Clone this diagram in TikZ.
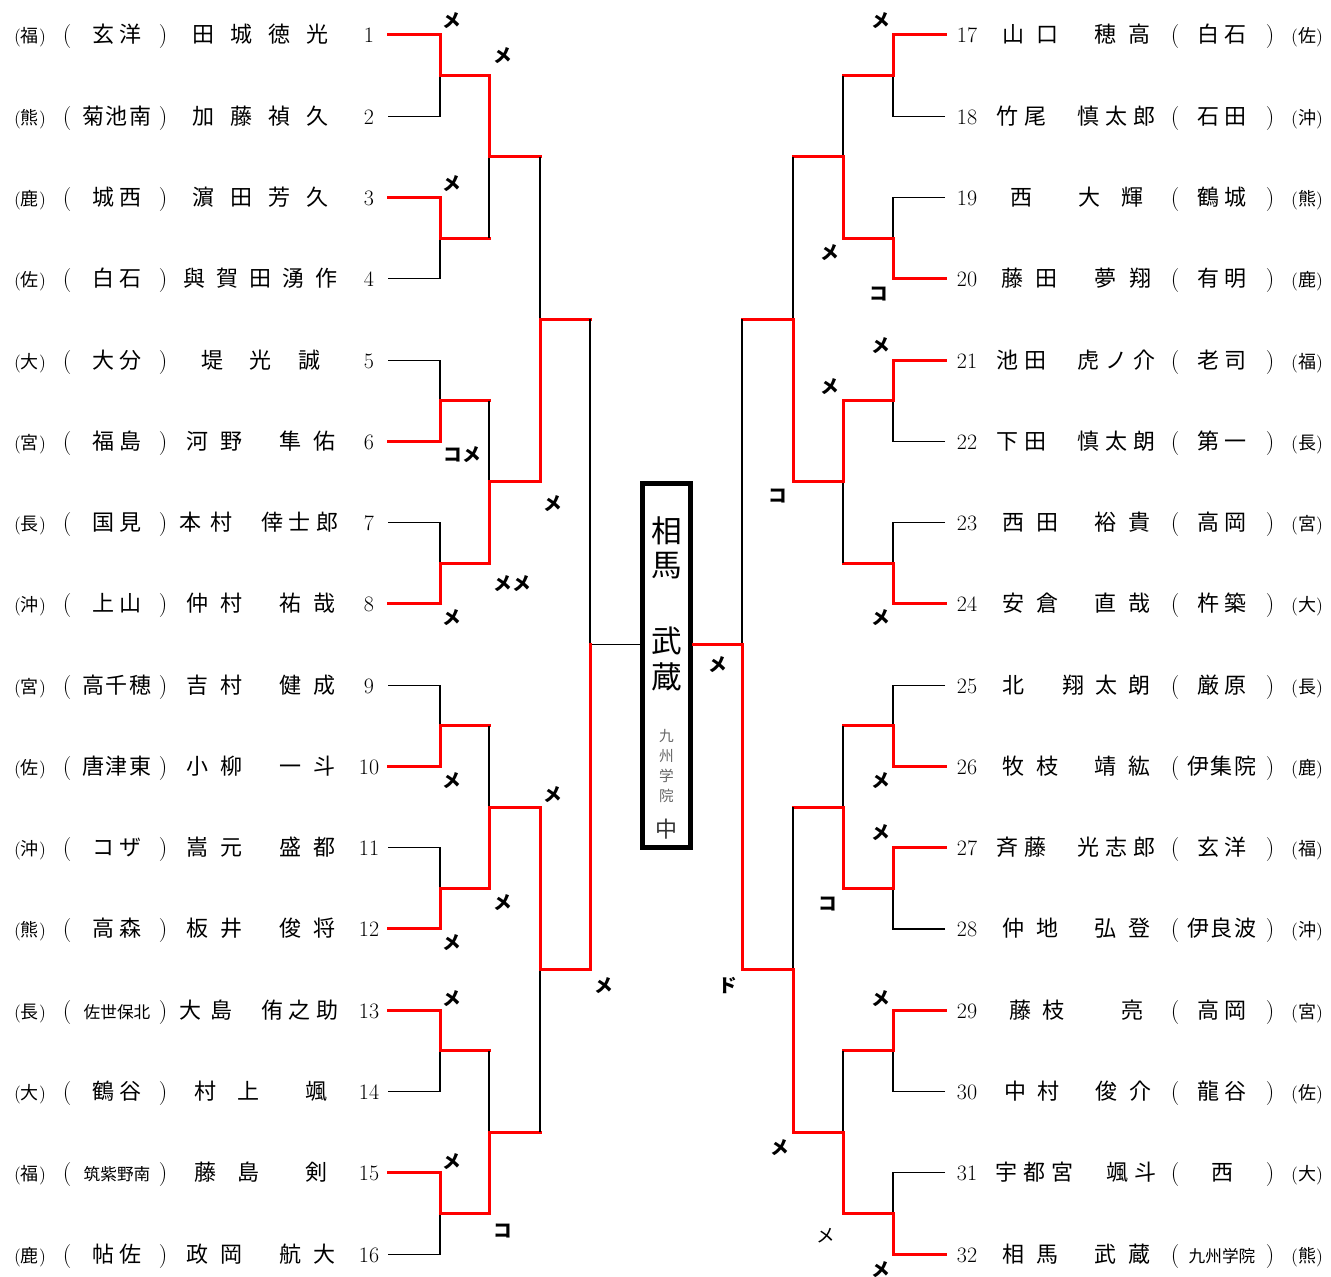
\documentclass[tikz,border=0pt]{standalone}
\usepackage{fontspec}
\newfontfamily\jp{Noto Sans CJK JP}
\newcommand\Lpar{{\normalfont(}}
\newcommand\Rpar{{\normalfont)}}
\newcommand\twoc[2]{#1\kern4pt#2}
\newcommand\thrc[3]{#1\kern1.2pt#2\kern1.2pt#3}
\newcommand\smlc[1]{{\fontsize{12.5}{13}\selectfont #1}}
\newcommand\bout[4]{\draw[lose] (#2) -| (#3); \draw[win] (#1) -| (#3) -- (#4);}
\newcommand\Lrow[5]{%
  \pgfmathsetmacro\yb{35+(#1-1)*81.27+8}
  \node[pf] (lpf#1) at (30,\yb) {\Lpar#2\Rpar};
  \node[prn] (llp#1) at (67,\yb) {(};
  \node[sc] (lsc#1) at (117,\yb) {#3};
  \node[prn] (lrp#1) at (163,\yb) {)};
  \foreach \xx/\cc in {#4}{\node[nm] (ln#1-\xx) at (\xx,\yb) {\cc};}
  \node[num] (lnum#1) at (369,\yb) {#5};
}
\newcommand\Rrow[5]{%
  \pgfmathsetmacro\yb{35+(#1-1)*81.27+8}
  \node[num] (rnum#1) at (967,\yb) {#2};
  \foreach \xx/\cc in {#3}{\node[nm] (rn#1-\xx) at (\xx,\yb) {\cc};}
  \node[prn] (rlp#1) at (1175,\yb) {(};
  \node[sc] (rsc#1) at (1222,\yb) {#4};
  \node[prn] (rrp#1) at (1270,\yb) {)};
  \node[pf] (rpf#1) at (1307,\yb) {\Lpar#5\Rpar};
}
\begin{document}
\begin{tikzpicture}[x=0.75pt,y=-0.75pt,
 win/.style={draw=red,line width=2.25pt,line cap=rect},
 lose/.style={draw=black,line width=0.8pt},
 txt/.style={inner sep=0pt,anchor=base},
 nm/.style={txt,font=\jp\fontsize{16.5}{18}\selectfont},
 sc/.style={txt,font=\jp\fontsize{16.5}{18}\selectfont},
 prn/.style={txt,font=\fontsize{18}{20}\selectfont},
 num/.style={txt,font=\fontsize{16.5}{18}\selectfont},
 pf/.style={txt,font=\jp\fontsize{13.5}{15}\selectfont},
 lab/.style={inner sep=0pt,font=\jp\bfseries\fontsize{14}{14}\selectfont},
 thinlab/.style={inner sep=0pt,font=\jp\fontsize{14}{14}\selectfont},
 bigc/.style={inner sep=0pt,font=\jp\fontsize{23}{24}\selectfont},
 smc/.style={inner sep=0pt,font=\jp\fontsize{11}{12}\selectfont,text=black!60},
 midc/.style={inner sep=0pt,font=\jp\fontsize{16.5}{18}\selectfont,text=black!80},
 frame/.style={draw=black,line width=3.75pt,minimum width=36pt,minimum height=273pt,inner sep=0pt}]
\useasboundingbox (0,0) rectangle (1331,1277);

% ---------- coordinates ----------
\foreach \i in {1,...,16}{\coordinate (p\i) at (388,{35+(\i-1)*81.27});}
\foreach \i [evaluate=\i as \j using int(\i+16)] in {1,...,16}{\coordinate (p\j) at (945,{35+(\i-1)*81.27});}
\foreach \k in {1,...,8}{
  \coordinate (la\k) at (440,{75.635+(\k-1)*162.54});
  \coordinate (lA\k) at (489,{75.635+(\k-1)*162.54});
  \coordinate (ra\k) at (893,{75.635+(\k-1)*162.54});
  \coordinate (rA\k) at (843,{75.635+(\k-1)*162.54});
}
\foreach \k in {1,...,4}{
  \coordinate (lb\k) at (489,{156.905+(\k-1)*325.08});
  \coordinate (lB\k) at (540,{156.905+(\k-1)*325.08});
  \coordinate (rb\k) at (843,{156.905+(\k-1)*325.08});
  \coordinate (rB\k) at (793,{156.905+(\k-1)*325.08});
}
\foreach \k in {1,2}{
  \coordinate (lc\k) at (540,{319.445+(\k-1)*650.16});
  \coordinate (lC\k) at (590,{319.445+(\k-1)*650.16});
  \coordinate (rc\k) at (793,{319.445+(\k-1)*650.16});
  \coordinate (rC\k) at (742,{319.445+(\k-1)*650.16});
}
\coordinate (ld) at (590,644.525);
\coordinate (rd) at (742,644.525);

% ---------- central box ----------
\node[frame] (box) at (666.5,665.5) {};
\node[bigc] (b1) at (666.5,531) {相};
\node[bigc] (b2) at (666.5,566) {馬};
\node[bigc] (b3) at (666.5,641) {武};
\node[bigc] (b4) at (666.5,677) {蔵};
\node[smc] (b5) at (666.5,736) {九};
\node[smc] (b6) at (666.5,756) {州};
\node[smc] (b7) at (666.5,776) {学};
\node[smc] (b8) at (666.5,796) {院};
\node[midc] (b9) at (666.5,829) {中};

% ---------- left bracket ----------
\bout{p1}{p2}{la1}{lA1}
\bout{p3}{p4}{la2}{lA2}
\bout{p6}{p5}{la3}{lA3}
\bout{p8}{p7}{la4}{lA4}
\bout{p10}{p9}{la5}{lA5}
\bout{p12}{p11}{la6}{lA6}
\bout{p13}{p14}{la7}{lA7}
\bout{p15}{p16}{la8}{lA8}
\bout{lA1}{lA2}{lb1}{lB1}
\bout{lA4}{lA3}{lb2}{lB2}
\bout{lA6}{lA5}{lb3}{lB3}
\bout{lA8}{lA7}{lb4}{lB4}
\bout{lB2}{lB1}{lc1}{lC1}
\bout{lB3}{lB4}{lc2}{lC2}
\draw[lose] (lC1) -- (ld) -- (ld -| box.west);
\draw[win] (lC2) -- (ld);

% ---------- right bracket ----------
\bout{p17}{p18}{ra1}{rA1}
\bout{p20}{p19}{ra2}{rA2}
\bout{p21}{p22}{ra3}{rA3}
\bout{p24}{p23}{ra4}{rA4}
\bout{p26}{p25}{ra5}{rA5}
\bout{p27}{p28}{ra6}{rA6}
\bout{p29}{p30}{ra7}{rA7}
\bout{p32}{p31}{ra8}{rA8}
\bout{rA2}{rA1}{rb1}{rB1}
\bout{rA3}{rA4}{rb2}{rB2}
\bout{rA6}{rA5}{rb3}{rB3}
\bout{rA8}{rA7}{rb4}{rB4}
\bout{rB2}{rB1}{rc1}{rC1}
\bout{rB4}{rB3}{rc2}{rC2}
\draw[lose] (rC1) -- (rd);
\draw[win] (rC2) -- (rd) -- (rd -| box.east);

% ---------- left rows ----------
\Lrow{1}{福}{\twoc{玄}{洋}}{203/田,241/城,279/徳,317/光}{1}
\Lrow{2}{熊}{\thrc{菊}{池}{南}}{203/加,241/藤,279/禎,317/久}{2}
\Lrow{3}{鹿}{\twoc{城}{西}}{203/濵,241/田,279/芳,317/久}{3}
\Lrow{4}{佐}{\twoc{白}{石}}{194/與,227/賀,260/田,293/湧,326/作}{4}
\Lrow{5}{大}{\twoc{大}{分}}{212/堤,260/光,309/誠}{5}
\Lrow{6}{宮}{\twoc{福}{島}}{197/河,231/野,290/隼,324/佑}{6}
\Lrow{7}{長}{\twoc{国}{見}}{190/本,221/村,272/倖,299/士,327/郎}{7}
\Lrow{8}{沖}{\twoc{上}{山}}{197/仲,231/村,290/祐,324/哉}{8}
\Lrow{9}{宮}{\thrc{高}{千}{穂}}{197/吉,231/村,290/健,324/成}{9}
\Lrow{10}{佐}{\thrc{唐}{津}{東}}{197/小,231/柳,290/一,324/斗}{10}
\Lrow{11}{沖}{\twoc{コ}{ザ}}{197/嵩,231/元,290/盛,324/都}{11}
\Lrow{12}{熊}{\twoc{高}{森}}{197/板,231/井,290/俊,324/将}{12}
\Lrow{13}{長}{\smlc{佐世保北}}{190/大,221/島,272/侑,299/之,327/助}{13}
\Lrow{14}{大}{\twoc{鶴}{谷}}{205/村,248/上,316/颯}{14}
\Lrow{15}{福}{\smlc{筑紫野南}}{205/藤,248/島,316/剣}{15}
\Lrow{16}{鹿}{\twoc{帖}{佐}}{197/政,231/岡,290/航,324/大}{16}

% ---------- right rows ----------
\Rrow{1}{17}{1013/山,1047/口,1105/穂,1139/高}{\twoc{白}{石}}{佐}
\Rrow{2}{18}{1007/竹,1035/尾,1088/慎,1116/太,1144/郎}{\twoc{石}{田}}{沖}
\Rrow{3}{19}{1021/西,1089/大,1132/輝}{\twoc{鶴}{城}}{熊}
\Rrow{4}{20}{1012/藤,1046/田,1105/夢,1140/翔}{\twoc{有}{明}}{鹿}
\Rrow{5}{21}{1007/池,1035/田,1088/虎,1116/ノ,1144/介}{\twoc{老}{司}}{福}
\Rrow{6}{22}{1007/下,1035/田,1088/慎,1116/太,1144/朗}{\twoc{第}{一}}{長}
\Rrow{7}{23}{1013/西,1047/田,1105/裕,1139/貴}{\twoc{高}{岡}}{宮}
\Rrow{8}{24}{1013/安,1047/倉,1105/直,1139/哉}{\twoc{杵}{築}}{大}
\Rrow{9}{25}{1013/北,1073/翔,1106/太,1139/朗}{\twoc{厳}{原}}{長}
\Rrow{10}{26}{1013/牧,1047/枝,1105/靖,1139/紘}{\thrc{伊}{集}{院}}{鹿}
\Rrow{11}{27}{1007/斉,1035/藤,1088/光,1116/志,1144/郎}{\twoc{玄}{洋}}{福}
\Rrow{12}{28}{1013/仲,1047/地,1105/弘,1139/登}{\thrc{伊}{良}{波}}{沖}
\Rrow{13}{29}{1020/藤,1053/枝,1132/亮}{\twoc{高}{岡}}{宮}
\Rrow{14}{30}{1015/中,1048/村,1106/俊,1140/介}{\twoc{龍}{谷}}{佐}
\Rrow{15}{31}{1006/宇,1034/都,1062/宮,1117/颯,1145/斗}{西}{大}
\Rrow{16}{32}{1013/相,1047/馬,1105/武,1139/蔵}{\smlc{九州学院}}{熊}

% ---------- result marks ----------
\node[lab] (k1) at (452,21) {メ};
\node[lab] (k2) at (503,56) {メ};
\node[lab] (k3) at (452,184) {メ};
\node[lab] (k4) at (462,455) {コメ};
\node[lab] (k5) at (512,584) {メメ};
\node[lab] (k6) at (452,618) {メ};
\node[lab] (k7) at (553,504) {メ};
\node[lab] (k8) at (452,781) {メ};
\node[lab] (k9) at (553,795) {メ};
\node[lab] (k10) at (503,903) {メ};
\node[lab] (k11) at (452,943) {メ};
\node[lab] (k12) at (604,986) {メ};
\node[lab] (k13) at (452,999) {メ};
\node[lab] (k14) at (452,1162) {メ};
\node[lab] (k15) at (503,1231) {コ};

\node[lab] (j1) at (881,21) {メ};
\node[lab] (j2) at (830,253) {メ};
\node[lab] (j3) at (879,294) {コ};
\node[lab] (j4) at (881,346) {メ};
\node[lab] (j5) at (830,387) {メ};
\node[lab] (j6) at (778,496) {コ};
\node[lab] (j7) at (881,618) {メ};
\node[lab] (j8) at (718,665) {メ};
\node[lab] (j9) at (881,781) {メ};
\node[lab] (j10) at (881,833) {メ};
\node[lab] (j11) at (828,904) {コ};
\node[lab] (j12) at (728,985) {ド};
\node[lab] (j13) at (881,999) {メ};
\node[lab] (j14) at (780,1148) {メ};
\node[thinlab] (j15) at (826,1236) {メ};
\node[lab] (j16) at (881,1270) {メ};
\end{tikzpicture}
\end{document}
